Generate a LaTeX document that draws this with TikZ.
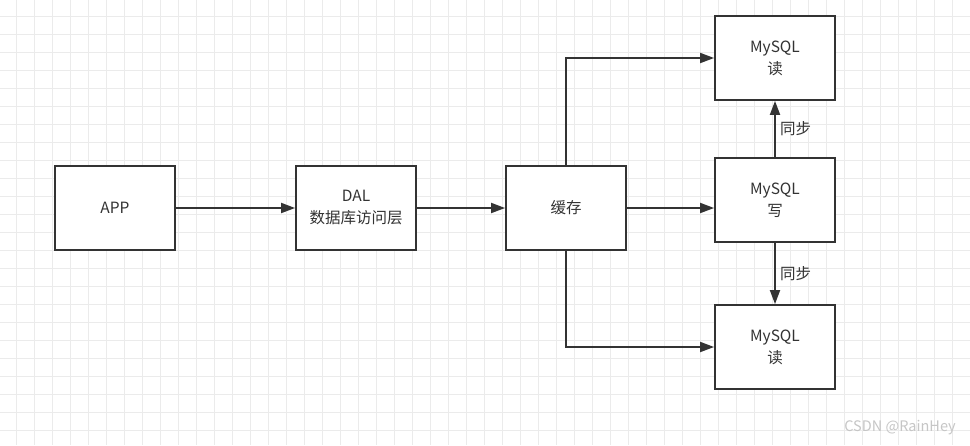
\documentclass[tikz,border=0pt]{standalone}
\usepackage{fontspec}
\setmainfont{Noto Sans CJK SC}
\usetikzlibrary{arrows.meta,positioning}

\definecolor{inkgray}{HTML}{333333}
\definecolor{gridgray}{HTML}{EBEBEB}

\begin{document}
\begin{tikzpicture}[
    x=1pt, y=-1pt,
    box/.style={rectangle, draw=inkgray, line width=1.8pt, fill=white, text=inkgray,
                minimum width=120pt, minimum height=84pt, align=center,
                font=\fontsize{15.5}{22}\selectfont},
    arrow/.style={-{Triangle[length=14pt,width=10pt]}, line width=1.8pt, draw=inkgray},
    lbl/.style={text=inkgray, font=\fontsize{15.5}{18}\selectfont}
]
    \useasboundingbox (0,0) rectangle (970,445);
    \fill[white] (0,0) rectangle (970,445);

    % Grid
    \foreach \gx in {16,34,...,970} \draw[gridgray, line width=0.7pt] (\gx,0) -- (\gx,445);
    \foreach \gy in {16,34,...,445} \draw[gridgray, line width=0.7pt] (0,\gy) -- (970,\gy);

    % Main row
    \node[box] (app) at (115,208) {APP};
    \node[box] (dal) at (356,208) {DAL\\数据库访问层};
    \node[box] (cache) at (566,208) {缓存};

    % MySQL column
    \node[box] (readtop) at (775,58) {MySQL\\读};
    \node[box] (write) at (775,200) {MySQL\\写};
    \node[box] (readbot) at (775,347) {MySQL\\读};

    % Arrows
    \draw[arrow] (app) -- (dal);
    \draw[arrow] (dal) -- (cache);
    \draw[arrow] (cache.east) -- (cache.east -| write.west);
    \draw[arrow] (cache.north) |- (readtop);
    \draw[arrow] (cache.south) |- (readbot);

    % Sync
    \draw[arrow] (write) -- node[lbl, right=1pt] {同步} (readtop);
    \draw[arrow] (write) -- node[lbl, right=1pt] {同步} (readbot);

    % Watermark
    \node[text=gray!45, font=\fontsize{14.5}{16}\selectfont] (mark) at (900,428) {CSDN @RainHey};
\end{tikzpicture}
\end{document}
